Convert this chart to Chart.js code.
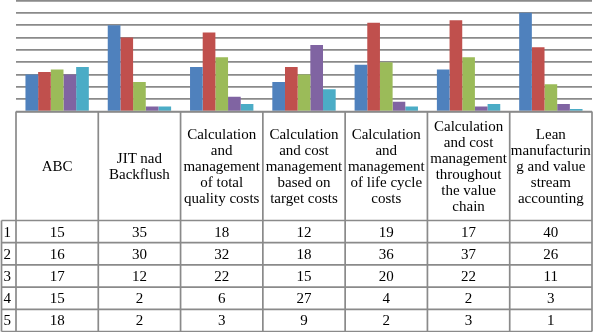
<!DOCTYPE html>
<html><head><meta charset="utf-8">
<script src="https://cdn.jsdelivr.net/npm/chart.js@4/dist/chart.umd.min.js"></script>
<style>
html,body{margin:0;padding:0;background:#fff;}
#wrap{position:relative;width:595px;height:332px;overflow:hidden;background:#fff;}
#c{position:absolute;left:0;top:0;}
.cell{position:absolute;box-sizing:border-box;display:flex;flex-direction:column;align-items:center;justify-content:center;text-align:center;font-family:"Liberation Serif","Times New Roman",serif;font-size:15px;line-height:16px;color:#000;white-space:nowrap;}
.rl{align-items:flex-start;padding-left:2px;}
</style></head>
<body><div id="wrap"><canvas id="c" width="595" height="332"></canvas><div id="tbl"></div></div>
<script>
const categories = [
  ["ABC"],
  ["JIT nad", "Backflush"],
  ["Calculation", "and", "management", "of total", "quality costs"],
  ["Calculation", "and cost", "management", "based on", "target costs"],
  ["Calculation", "and", "management", "of life cycle", "costs"],
  ["Calculation", "and cost", "management", "throughout", "the value", "chain"],
  ["Lean", "manufacturin", "g and value", "stream", "accounting"]
];
const seriesNames = ["1", "2", "3", "4", "5"];
const series1 = [15, 35, 18, 12, 19, 17, 40];
const series2 = [16, 30, 32, 18, 36, 37, 26];
const series3 = [17, 12, 22, 15, 20, 22, 11];
const series4 = [15, 2, 6, 27, 4, 2, 3];
const series5 = [18, 2, 3, 9, 2, 3, 1];
const yMax = 45;
const yStep = 5;

const colors = ["#4F81BD", "#C0504D", "#9BBB59", "#8064A2", "#4BACC6"];
const allSeries = [series1, series2, series3, series4, series5];
const lineColor = "#8a8a8a";

const tablePlugin = {
  id: "tableLines",
  afterDraw(chart) {
    const ctx = chart.ctx;
    const xs = chart.scales.x;
    const area = chart.chartArea;
    const n = categories.length;
    const w = xs.getPixelForValue(1) - xs.getPixelForValue(0);
    const bounds = [];
    for (let i = 0; i <= n; i++) bounds.push(xs.getPixelForValue(0) - w / 2 + i * w);
    const top = area.bottom;
    const headBottom = 220.5;
    const rowH = 22.2;
    const bottom = headBottom + rowH * seriesNames.length;
    const leftX = 1.5;
    ctx.save();
    ctx.strokeStyle = lineColor;
    ctx.lineWidth = 1.7;
    ctx.beginPath();
    ctx.moveTo(bounds[0], top); ctx.lineTo(bounds[n], top);
    for (let r = 0; r <= seriesNames.length; r++) {
      const y = headBottom + r * rowH;
      ctx.moveTo(leftX, y); ctx.lineTo(bounds[n], y);
    }
    for (let i = 0; i <= n; i++) {
      ctx.moveTo(bounds[i], top); ctx.lineTo(bounds[i], bottom);
    }
    ctx.moveTo(leftX, headBottom); ctx.lineTo(leftX, bottom);
    ctx.stroke();
    ctx.restore();
    buildText(bounds, top, headBottom, rowH, leftX);
  }
};

let built = false;
function buildText(bounds, top, headBottom, rowH, leftX) {
  if (built) return; built = true;
  const tbl = document.getElementById("tbl");
  const mk = (x, y, w, h, lines, cls) => {
    const d = document.createElement("div");
    d.className = "cell" + (cls ? " " + cls : "");
    d.style.left = x + "px"; d.style.top = y + "px";
    d.style.width = w + "px"; d.style.height = h + "px";
    lines.forEach(t => { const s = document.createElement("div"); s.textContent = t; d.appendChild(s); });
    tbl.appendChild(d);
  };
  categories.forEach((c, i) => mk(bounds[i], top, bounds[i + 1] - bounds[i], headBottom - top, c));
  seriesNames.forEach((s, r) => {
    const y = headBottom + r * rowH;
    mk(leftX, y, bounds[0] - leftX, rowH, [s], "rl");
    allSeries[r].forEach((v, i) => mk(bounds[i], y, bounds[i + 1] - bounds[i], rowH, [String(v)]));
  });
}

new Chart(document.getElementById("c"), {
  type: "bar",
  data: {
    labels: categories,
    datasets: allSeries.map((d, i) => ({
      label: seriesNames[i], data: d, backgroundColor: colors[i],
      borderWidth: 0, barPercentage: 1, categoryPercentage: 0.77
    }))
  },
  options: {
    responsive: false, animation: false,
    layout: { padding: { left: 16, right: 3, top: 0.5, bottom: 220.5 } },
    plugins: { legend: { display: false }, tooltip: { enabled: false } },
    scales: {
      x: { display: false },
      y: {
        min: 0, max: yMax,
        ticks: { display: false, stepSize: yStep },
        grid: { color: lineColor, lineWidth: 1.7, drawTicks: false },
        border: { display: false }
      }
    }
  },
  plugins: [tablePlugin]
});
</script>
</body></html>
